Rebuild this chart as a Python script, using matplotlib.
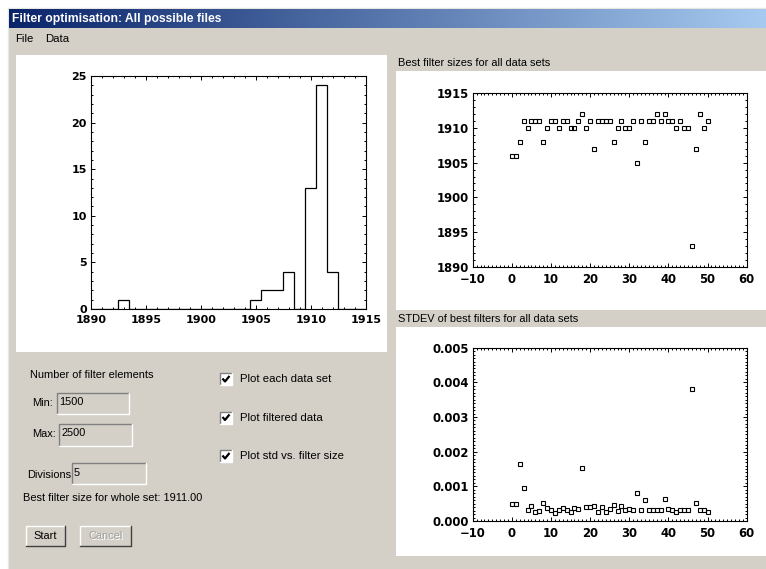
import numpy as np
import matplotlib
matplotlib.use("Agg")
import matplotlib.pyplot as plt
from matplotlib.patches import Rectangle
from matplotlib.colors import LinearSegmentedColormap
from matplotlib.ticker import MultipleLocator, FormatStrFormatter

# best filter size for each data set (index 0..50)
set_index = list(range(51))
best_sizes = [1906, 1906, 1908, 1911, 1910, 1911, 1911, 1911, 1908, 1910,
              1911, 1911, 1910, 1911, 1911, 1910, 1910, 1911, 1912, 1910,
              1911, 1907, 1911, 1911, 1911, 1911, 1908, 1910, 1911, 1910,
              1910, 1911, 1905, 1911, 1908, 1911, 1911, 1912, 1911, 1912,
              1911, 1911, 1910, 1911, 1910, 1910, 1893, 1907, 1912, 1910,
              1911]
# stdev of best filter for each data set
best_std = [0.00048, 0.00048, 0.00165, 0.00095, 0.00033, 0.00044, 0.00027, 0.00029, 0.00052, 0.00037,
            0.00031, 0.00024, 0.00033, 0.00037, 0.00033, 0.00027, 0.00038, 0.00036, 0.00152, 0.00040,
            0.00040, 0.00042, 0.00027, 0.00040, 0.00027, 0.00036, 0.00046, 0.00029, 0.00042, 0.00031,
            0.00036, 0.00031, 0.00082, 0.00033, 0.00060, 0.00031, 0.00033, 0.00031, 0.00033, 0.00064,
            0.00036, 0.00031, 0.00027, 0.00033, 0.00031, 0.00033, 0.00380, 0.00053, 0.00033, 0.00031,
            0.00027]
hist_bins = np.arange(1889.5, 1916.0, 1.0)

checkbox_labels = ["Plot each data set", "Plot filtered data", "Plot std vs. filter size"]

W, H = 766, 569
GRAY = "#D4D0C8"
GUI_FONT = "Liberation Sans"
FS = 7.9

fig = plt.figure(figsize=(W / 100, H / 100), dpi=100, facecolor="white")

# background axes in pixel coordinates (y down)
bg = fig.add_axes([0, 0, 1, 1])
bg.axis("off")

bg.add_patch(Rectangle((8, 8), W - 8, H - 8, facecolor=GRAY, edgecolor="none"))
bg.plot([8, 8], [8, H], color="#E8E6E0", lw=1)
bg.plot([8, W], [8, 8], color="#E8E6E0", lw=1)

# title bar gradient
tb_cmap = LinearSegmentedColormap.from_list("tb", ["#0A246A", "#A6CAF0"])
bg.imshow(np.linspace(0, 1, 256)[None, :], cmap=tb_cmap, extent=(9, W, 28, 9),
          aspect="auto", interpolation="bilinear", zorder=2)
bg.text(12, 18.5, "Filter optimisation: All possible files", color="white",
        fontsize=8.7, fontweight="bold", family=GUI_FONT, va="center", ha="left", zorder=3)

# menu
bg.text(15, 39, "File", fontsize=8.2, family=GUI_FONT, va="center")
bg.text(45, 39, "Data", fontsize=8.2, family=GUI_FONT, va="center")

# white draw panels
bg.add_patch(Rectangle((16, 55), 371, 297, facecolor="white", edgecolor="none"))
bg.add_patch(Rectangle((396, 71), W - 396, 239, facecolor="white", edgecolor="none"))
bg.add_patch(Rectangle((396, 327), W - 396, 229, facecolor="white", edgecolor="none"))

bg.text(398, 63, "Best filter sizes for all data sets", fontsize=FS, family=GUI_FONT, va="center")
bg.text(398, 319, "STDEV of best filters for all data sets", fontsize=FS, family=GUI_FONT, va="center")

# left controls
bg.text(30, 375, "Number of filter elements", fontsize=FS, family=GUI_FONT, va="center")


def sunken_box(x0, y0, x1, y1, face=GRAY):
    bg.add_patch(Rectangle((x0, y0), x1 - x0, y1 - y0, facecolor=face, edgecolor="none"))
    bg.plot([x0, x0, x1], [y1, y0, y0], color="#808080", lw=1)
    bg.plot([x0, x1, x1], [y1, y1, y0], color="white", lw=1)


def raised_button(x0, y0, x1, y1, label, color="black"):
    bg.add_patch(Rectangle((x0, y0), x1 - x0, y1 - y0, facecolor=GRAY, edgecolor="none"))
    bg.plot([x0, x0, x1], [y1, y0, y0], color="white", lw=1)
    bg.plot([x0, x1, x1], [y1, y1, y0], color="#404040", lw=1)
    if color != "black":
        bg.text((x0 + x1) / 2 + 0.7, (y0 + y1) / 2 + 0.7, label, fontsize=FS, family=GUI_FONT,
                va="center", ha="center", color="white")
    bg.text((x0 + x1) / 2, (y0 + y1) / 2, label, fontsize=FS, family=GUI_FONT,
            va="center", ha="center", color=color)


bg.text(32, 403, "Min:", fontsize=FS, family=GUI_FONT, va="center")
sunken_box(57, 393, 129, 414)
bg.text(59.5, 402, "1500", fontsize=FS, family=GUI_FONT, va="center")

bg.text(32, 434, "Max:", fontsize=FS, family=GUI_FONT, va="center")
sunken_box(59, 424, 132, 446)
bg.text(61.5, 433, "2500", fontsize=FS, family=GUI_FONT, va="center")

bg.text(27, 475, "Divisions", fontsize=FS, family=GUI_FONT, va="center")
sunken_box(72, 463, 146, 484)
bg.text(74, 473, "5", fontsize=FS, family=GUI_FONT, va="center")

bg.text(23, 498, "Best filter size for whole set: 1911.00", fontsize=FS, family=GUI_FONT, va="center")

raised_button(26, 526, 65, 546, "Start")
raised_button(80, 526, 131, 546, "Cancel", color="#A0A0A0")

for i, lab in enumerate(checkbox_labels):
    cy = 379 + i * 38.5
    sunken_box(220, cy - 6, 232, cy + 6, face="white")
    bg.plot([222.5, 225, 229.5], [cy - 0.5, cy + 2.5, cy - 3], color="black", lw=1.6,
            solid_capstyle="butt")
    bg.text(240, cy, lab, fontsize=8.2, family=GUI_FONT, va="center")

bg.set_xlim(0, W)
bg.set_ylim(H, 0)


def px_axes(left, top, right, bottom):
    return fig.add_axes([left / W, 1 - bottom / H, (right - left) / W, (bottom - top) / H])


def idl_style(ax, size=8.0):
    for s in ax.spines.values():
        s.set_linewidth(0.8)
    ax.tick_params(which="both", direction="in", top=True, right=True, width=0.7,
                   labelsize=size, colors="black")
    ax.tick_params(which="major", length=3.0)
    ax.tick_params(which="minor", length=1.5)
    ax.tick_params(axis="x", pad=4)
    ax.tick_params(axis="y", pad=3)
    for lab in ax.get_xticklabels() + ax.get_yticklabels():
        lab.set_fontweight("bold")
    ax.set_facecolor("white")


# histogram of best filter sizes
ax_h = px_axes(91, 76, 366, 309)
ax_h.hist(best_sizes, bins=hist_bins, histtype="step", color="black", linewidth=0.9)
ax_h.set_xlim(1890, 1915)
ax_h.set_ylim(0, 25)
ax_h.xaxis.set_major_locator(MultipleLocator(5))
ax_h.xaxis.set_minor_locator(MultipleLocator(1))
ax_h.yaxis.set_major_locator(MultipleLocator(5))
ax_h.yaxis.set_minor_locator(MultipleLocator(1))
idl_style(ax_h, 8.0)

# best filter sizes per data set
ax_s = px_axes(472.7, 92.7, 746.7, 267.3)
ax_s.plot(set_index, best_sizes, linestyle="none", marker="s", markersize=3.4,
          markerfacecolor="none", markeredgecolor="black", markeredgewidth=0.8)
ax_s.set_xlim(-10, 60)
ax_s.set_ylim(1890, 1915)
ax_s.xaxis.set_major_locator(MultipleLocator(10))
ax_s.xaxis.set_minor_locator(MultipleLocator(1))
ax_s.yaxis.set_major_locator(MultipleLocator(5))
ax_s.yaxis.set_minor_locator(MultipleLocator(1))
idl_style(ax_s, 8.4)

# stdev of best filters
ax_d = px_axes(472.7, 347.7, 746.7, 521)
ax_d.plot(set_index, best_std, linestyle="none", marker="s", markersize=3.4,
          markerfacecolor="none", markeredgecolor="black", markeredgewidth=0.8)
ax_d.set_xlim(-10, 60)
ax_d.set_ylim(0, 0.005)
ax_d.xaxis.set_major_locator(MultipleLocator(10))
ax_d.xaxis.set_minor_locator(MultipleLocator(1))
ax_d.yaxis.set_major_locator(MultipleLocator(0.001))
ax_d.yaxis.set_minor_locator(MultipleLocator(0.0001))
ax_d.yaxis.set_major_formatter(FormatStrFormatter("%.3f"))
idl_style(ax_d, 8.4)

fig.savefig("out.png", dpi=100, facecolor=fig.get_facecolor())
